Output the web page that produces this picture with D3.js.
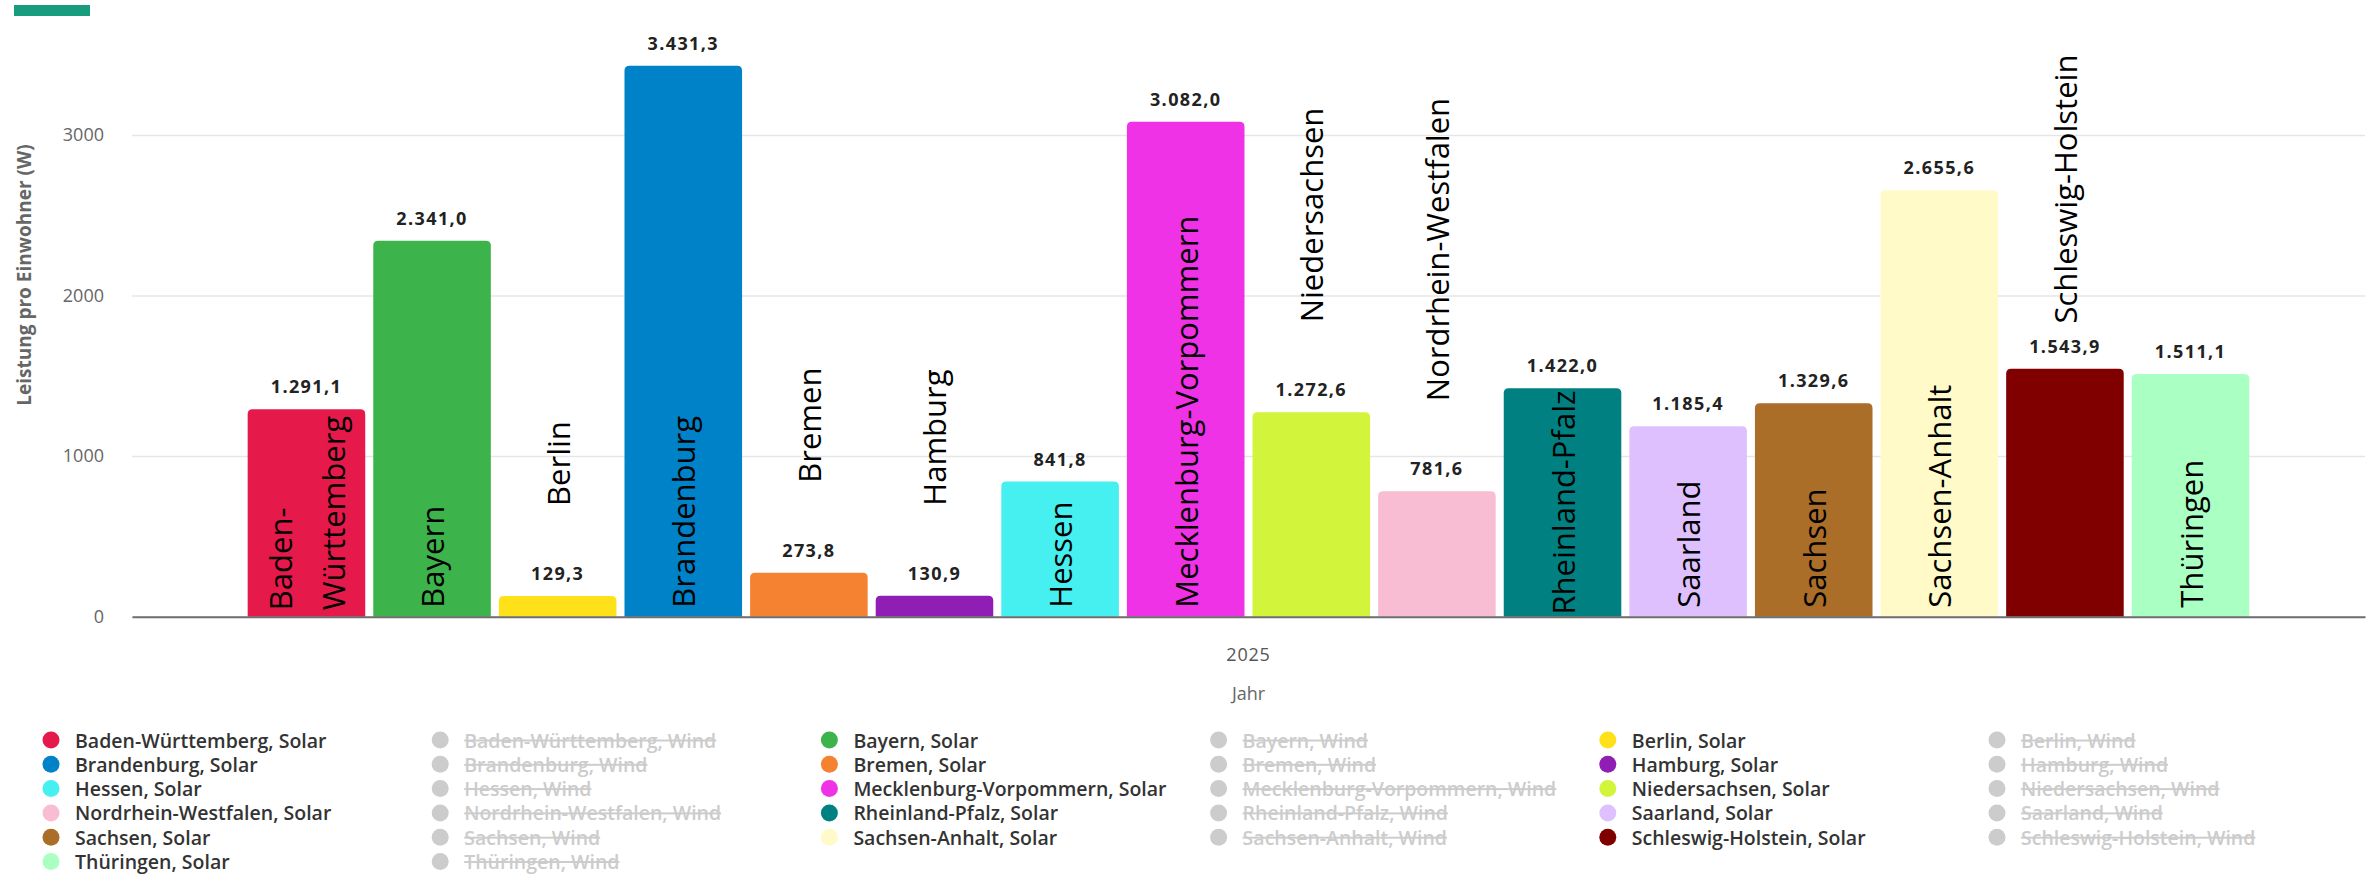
<!DOCTYPE html>
<html>
<head>
<meta charset="utf-8">
<script src="https://cdn.jsdelivr.net/npm/d3@7"></script>
<style>
  html, body { margin: 0; padding: 0; background: #fff; }
  svg { display: block; }
</style>
</head>
<body>
<svg id="chart" width="2372" height="874"></svg>
<script>
// ---- data -------------------------------------------------------------
const states = [
  "Baden-Württemberg", "Bayern", "Berlin", "Brandenburg", "Bremen", "Hamburg",
  "Hessen", "Mecklenburg-Vorpommern", "Niedersachsen", "Nordrhein-Westfalen",
  "Rheinland-Pfalz", "Saarland", "Sachsen", "Sachsen-Anhalt",
  "Schleswig-Holstein", "Thüringen"
];
// installed solar capacity per inhabitant (W), year 2025
const solarValues = [
  1291.1, 2341.0, 129.3, 3431.3, 273.8, 130.9,
  841.8, 3082.0, 1272.6, 781.6,
  1422.0, 1185.4, 1329.6, 2655.6,
  1543.9, 1511.1
];
const stateColors = [
  "#e6194b", "#3cb44b", "#ffe119", "#0082c8", "#f58231", "#911eb4",
  "#46f0f0", "#f032e6", "#d2f53c", "#f8bdd2",
  "#008080", "#dfc0ff", "#aa6e28", "#fffac8",
  "#800000", "#aaffc3"
];
const years = ["2025"];
const sources = ["Solar", "Wind"];
const hiddenSources = ["Wind"];
const yTicks = [0, 1000, 2000, 3000];
const yTitle = "Leistung pro Einwohner (W)";
const xTitle = "Jahr";
// state names that are wrapped onto two lines inside their column
const nameLines = { "Baden-Württemberg": ["Baden-", "Württemberg"] };
// state names printed above their column instead of inside
const namesAbove = ["Berlin", "Bremen", "Hamburg", "Niedersachsen",
                    "Nordrhein-Westfalen", "Schleswig-Holstein"];

// ---- layout -----------------------------------------------------------
const plot = { left: 132, right: 2365, top: 54.6, bottom: 616.7 };
const FONT = "'Open Sans', 'Noto Sans', sans-serif";

const svg = d3.select("#chart");

const deFormat = d3.formatLocale({
  decimal: ",", thousands: ".", grouping: [3], currency: ["", " €"]
}).format(",.1f");

// category axis (one year) and the columns of the states inside it
const xYear = d3.scaleBand().domain(years).range([plot.left, plot.right]);
const groupPad = 0.05 * xYear.bandwidth();
const xState = d3.scaleBand()
  .domain(states)
  .range([xYear(years[0]) + groupPad, xYear(years[0]) + xYear.bandwidth() - groupPad])
  .paddingInner(0.064)
  .paddingOuter(0.032);

const y = d3.scaleLinear().domain([0, 3500]).range([plot.bottom, plot.top]);

// brand strip
svg.append("rect")
  .attr("x", 14).attr("y", 5).attr("width", 76).attr("height", 11)
  .attr("fill", "#179c7d");

// ---- y axis with grid -------------------------------------------------
const yAxis = svg.append("g")
  .attr("transform", `translate(${plot.left},0)`)
  .call(d3.axisLeft(y)
    .tickValues(yTicks)
    .tickSizeInner(-(plot.right - plot.left))
    .tickSizeOuter(0)
    .tickPadding(28)
    .tickFormat(d3.format("d")));
yAxis.select(".domain").remove();
yAxis.selectAll(".tick line").attr("stroke", "#e6e6e6").attr("stroke-width", 1.5);
yAxis.selectAll(".tick text")
  .attr("fill", "#666").attr("font-family", FONT).attr("font-size", 18);

svg.append("text")
  .attr("transform", `translate(24,275) rotate(-90)`)
  .attr("text-anchor", "middle")
  .attr("dominant-baseline", "central")
  .attr("font-family", FONT).attr("font-size", 19).attr("font-weight", 700)
  .attr("fill", "#666")
  .text(yTitle);

// ---- columns ----------------------------------------------------------
function topRounded(x0, y0, w, h, r) {
  r = Math.min(r, w / 2, h);
  return `M${x0},${y0 + h}V${y0 + r}Q${x0},${y0} ${x0 + r},${y0}` +
         `H${x0 + w - r}Q${x0 + w},${y0} ${x0 + w},${y0 + r}V${y0 + h}Z`;
}

const rows = states.map((s, i) => ({ state: s, value: solarValues[i], color: stateColors[i] }));

svg.append("g").selectAll("path")
  .data(rows)
  .join("path")
  .attr("d", d => topRounded(xState(d.state), y(d.value), xState.bandwidth(),
                             y(0) - y(d.value), 5))
  .attr("fill", d => d.color);

// ---- x axis -----------------------------------------------------------
const xAxis = svg.append("g")
  .attr("transform", `translate(0,${plot.bottom})`)
  .call(d3.axisBottom(xYear).tickSize(0).tickSizeOuter(0).tickPadding(32));
xAxis.select(".domain").attr("stroke", "#6e6e6e").attr("stroke-width", 2);
xAxis.selectAll(".tick text")
  .attr("fill", "#555").attr("font-family", FONT).attr("font-size", 18)
  .attr("letter-spacing", 0.8);

svg.append("text")
  .attr("x", xYear(years[0]) + xYear.bandwidth() / 2).attr("y", 693)
  .attr("text-anchor", "middle").attr("dominant-baseline", "central")
  .attr("font-family", FONT).attr("font-size", 18).attr("fill", "#666")
  .text(xTitle);

// ---- value labels -----------------------------------------------------
svg.append("g").selectAll("text")
  .data(rows)
  .join("text")
  .attr("x", d => xState(d.state) + xState.bandwidth() / 2)
  .attr("y", d => y(d.value) - 16)
  .attr("text-anchor", "middle")
  .attr("font-family", FONT).attr("font-size", 18).attr("font-weight", 700)
  .attr("letter-spacing", 1.4)
  .attr("fill", "#222")
  .attr("stroke", "#fff").attr("stroke-width", 3).attr("paint-order", "stroke")
  .text(d => deFormat(d.value));

// ---- state name labels (rotated) ---------------------------------------
const nameG = svg.append("g");
rows.forEach(d => {
  const cx = xState(d.state) + xState.bandwidth() / 2;
  const lines = nameLines[d.state] || [d.state];
  const lineGap = 53;
  const t = nameG.append("text")
    .attr("font-family", FONT).attr("font-size", 31).attr("fill", "#000")
    .attr("dominant-baseline", "central");
  lines.forEach((ln, k) => {
    t.append("tspan")
      .attr("x", 0)
      .attr("y", (k - (lines.length - 1) / 2) * lineGap)
      .text(ln);
  });
  const len = d3.max(t.selectAll("tspan").nodes(), n => n.getComputedTextLength());
  const barH = y(0) - y(d.value);
  let start;                                  // lower end of the rotated text
  if (namesAbove.includes(d.state)) {
    start = y(d.value) - 90;
    start = Math.max(start, plot.top + len);  // keep inside the plot area
  } else if (len > barH - 14) {
    start = plot.bottom - (barH - len) / 2;   // tight fit: centre in column
  } else {
    start = plot.bottom - 9;
  }
  t.attr("transform", `translate(${cx},${start}) rotate(-90)`);
});

// ---- legend -----------------------------------------------------------
const legendItems = states.flatMap((s, i) => sources.map(src => ({
  label: `${s}, ${src}`,
  color: stateColors[i],
  hidden: hiddenSources.includes(src)
})));
const legend = svg.append("g");
const colStep = 389.2, rowStep = 24.3, cols = 6;
legendItems.forEach((it, i) => {
  const cx = 51 + (i % cols) * colStep;
  const cy = 740 + Math.floor(i / cols) * rowStep;
  legend.append("circle")
    .attr("cx", cx).attr("cy", cy).attr("r", 8.5)
    .attr("fill", it.hidden ? "#cccccc" : it.color);
  legend.append("text")
    .attr("x", cx + 24).attr("y", cy)
    .attr("dominant-baseline", "central")
    .attr("font-family", FONT).attr("font-size", 19.5).attr("font-weight", 600)
    .attr("fill", it.hidden ? "#cccccc" : "#333")
    .attr("text-decoration", it.hidden ? "line-through" : null)
    .text(it.label);
});
</script>
</body>
</html>
